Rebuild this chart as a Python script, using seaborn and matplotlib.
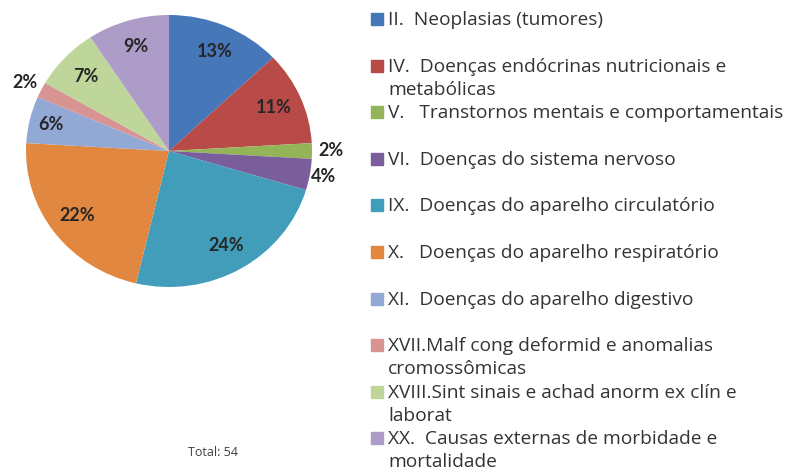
import matplotlib
matplotlib.use("Agg")
import matplotlib.pyplot as plt
import seaborn as sns
import numpy as np
from matplotlib.patches import Rectangle

# ---- data ----
categories = [
    "II.  Neoplasias (tumores)",
    "IV.  Doenças endócrinas nutricionais e\nmetabólicas",
    "V.   Transtornos mentais e comportamentais",
    "VI.  Doenças do sistema nervoso",
    "IX.  Doenças do aparelho circulatório",
    "X.   Doenças do aparelho respiratório",
    "XI.  Doenças do aparelho digestivo",
    "XVII.Malf cong deformid e anomalias\ncromossômicas",
    "XVIII.Sint sinais e achad anorm ex clín e\nlaborat",
    "XX.  Causas externas de morbidade e\nmortalidade",
]
counts = [7, 6, 1, 2, 13, 12, 3, 1, 4, 5]
total_label = "Total: 54"
colors_hex = ["#4677B8", "#B84A47", "#93B557", "#7A5E9C", "#419DBA",
              "#E2873F", "#92A9D6", "#D79493", "#BFD69B", "#AE9CC8"]

# ---- style ----
sns.set_theme(style="white")
plt.rcParams["font.family"] = ["Open Sans", "DejaVu Sans"]
palette = sns.color_palette(colors_hex)

W, H = 794, 475
fig = plt.figure(figsize=(W / 100, H / 100), dpi=100)

# pie axes (slightly elliptical, like the original)
cx, cy, rx, ry = 169, 151, 143, 136
ax = fig.add_axes([(cx - rx) / W, 1 - (cy + ry) / H, 2 * rx / W, 2 * ry / H])
wedges, _ = ax.pie(counts, colors=palette, startangle=90, counterclock=False,
                   wedgeprops=dict(linewidth=0))
ax.set_aspect("auto")
ax.set_xlim(-1, 1)
ax.set_ylim(-1, 1)
ax.axis("off")

tot = sum(counts)
for w, c in zip(wedges, counts):
    pct = 100 * c / tot
    ang = np.deg2rad((w.theta1 + w.theta2) / 2)
    if pct < 3:
        r = 1.13
    elif pct < 5:
        r = 1.1
    elif pct < 7:
        r = 0.85
    else:
        r = 0.8
    ax.text(r * np.cos(ang), r * np.sin(ang), f"{pct:.0f}%",
            ha="center", va="center", fontsize=13, fontweight="bold",
            color="#262626", clip_on=False, family=["Lato", "DejaVu Sans"])

fig.text(213 / W, 1 - 452 / H, total_label, ha="center", va="center",
         fontsize=9, color="#404040")

# ---- legend (drawn manually, marker aligned with first line) ----
x_marker, x_text = 371, 388
y_first, step, line_step = 19, 46.6, 23
for i, (lab, col) in enumerate(zip(categories, palette)):
    yc = y_first + i * step
    fig.patches.append(Rectangle(((x_marker) / W, 1 - (yc + 6) / H), 12 / W, 12 / H,
                                 transform=fig.transFigure, color=col, figure=fig))
    for j, line in enumerate(lab.split("\n")):
        yb = yc + j * line_step + 6
        fig.text(x_text / W, 1 - yb / H, line, ha="left", va="baseline",
                 fontsize=13.8, color="#333333")

fig.savefig("out.png", dpi=100)
